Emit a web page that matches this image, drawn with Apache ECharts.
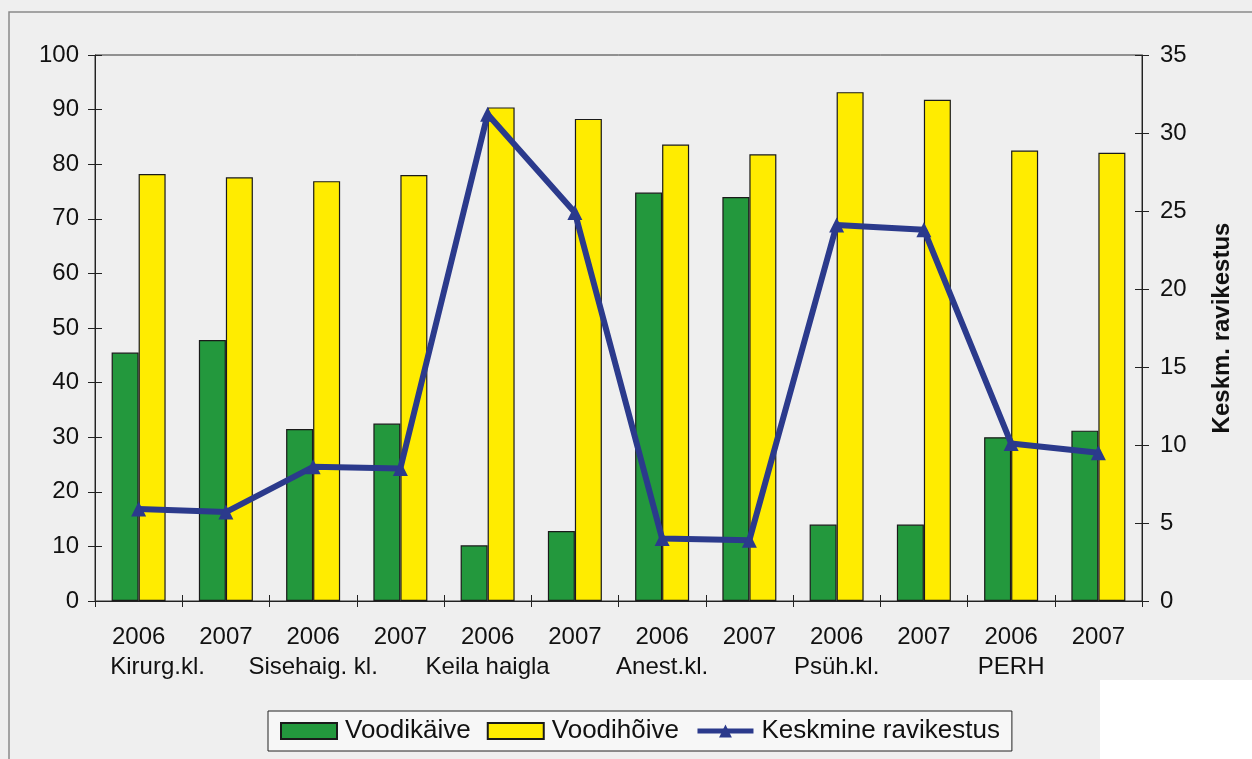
<!DOCTYPE html>
<html>
<head>
<meta charset="utf-8">
<script src="https://cdn.jsdelivr.net/npm/echarts@6/dist/echarts.min.js"></script>
<style>
html,body{margin:0;padding:0;background:#efefef;}
#chart{width:1252px;height:759px;}
</style>
</head>
<body>
<div id="chart"></div>
<script>
// ---- data ----
var years = ['2006','2007','2006','2007','2006','2007','2006','2007','2006','2007','2006','2007'];
var groups = ['Kirurg.kl.','Sisehaig. kl.','Keila haigla','Anest.kl.','Psüh.kl.','PERH'];
var voodikaive = [45.5, 47.8, 31.5, 32.5, 10.2, 12.8, 74.8, 74.0, 14.0, 14.0, 30.0, 31.2];
var voodihoive = [78.2, 77.6, 76.9, 78.0, 90.4, 88.3, 83.6, 81.8, 93.2, 91.8, 82.5, 82.1];
var ravikestus = [5.9, 5.7, 8.6, 8.5, 31.2, 24.9, 4.0, 3.9, 24.1, 23.8, 10.1, 9.5];
var leftTicks = {min: 0, max: 100, interval: 10};
var rightTicks = {min: 0, max: 35, interval: 5};

var FONT = 'Liberation Sans, Arial, sans-serif';
var LINE_COLOR = '#2b3a8c';
var chart = echarts.init(document.getElementById('chart'));

var cats = years.map(function(y, i){ return i; });
function xLabel(v, idx){
  var i = Number(idx);
  var s = '{y|' + years[i] + '}';
  if (i % 2 === 0) {
    var g = groups[i / 2];
    s += '\n' + (i === 0 ? '{gk|' + g + '}' : '{g|' + g + '}');
  }
  return s;
}

var option = {
  backgroundColor: '#efefef',
  animation: false,
  textStyle: {fontFamily: FONT},
  grid: {left: 95, right: 110, top: 55, bottom: 158, show: true, borderColor: '#333', borderWidth: 1, backgroundColor: 'transparent'},
  legend: {
    left: 268, top: 711,
    padding: [7, 12, 7, 12],
    borderColor: '#222', borderWidth: 1,
    backgroundColor: '#f7f7f7',
    itemWidth: 56, itemHeight: 16, itemGap: 16,
    textStyle: {fontFamily: FONT, fontSize: 26, color: '#111', padding: [0,0,0,3]},
    data: [
      {name: 'Voodikäive', icon: 'rect'},
      {name: 'Voodihõive', icon: 'rect'},
      {name: 'Keskmine ravikestus', lineStyle: {width: 5, color: LINE_COLOR}}
    ]
  },
  xAxis: [{
    type: 'category', data: cats, position: 'bottom',
    axisLine: {show: true, lineStyle: {color: '#222', width: 1}},
    axisTick: {show: true, length: 6, lineStyle: {color: '#222'}},
    axisLabel: {
      interval: 0, margin: 21, color: '#111', fontFamily: FONT,
      formatter: xLabel,
      rich: {
        y: {fontSize: 24, fontFamily: FONT, color: '#111', lineHeight: 30},
        g: {fontSize: 24, fontFamily: FONT, color: '#111', lineHeight: 30},
        gk: {fontSize: 24, fontFamily: FONT, color: '#111', lineHeight: 30, padding: [0,0,0,38]}
      }
    },
    splitLine: {show: false}
  }, {
    type: 'category', data: cats, position: 'bottom',
    axisLine: {show: false},
    axisTick: {show: true, inside: true, length: 6, lineStyle: {color: '#222'}},
    axisLabel: {show: false},
    splitLine: {show: false}
  }],
  yAxis: [{
    type: 'value', position: 'left', min: leftTicks.min, max: leftTicks.max, interval: leftTicks.interval,
    axisLine: {show: true, lineStyle: {color: '#222'}},
    axisTick: {show: true, length: 7, lineStyle: {color: '#222'}},
    axisLabel: {fontSize: 24, fontFamily: FONT, color: '#111', margin: 16},
    splitLine: {show: false}
  }, {
    type: 'value', position: 'right', min: rightTicks.min, max: rightTicks.max, interval: rightTicks.interval,
    name: 'Keskm. ravikestus', nameLocation: 'middle', nameGap: 68, nameRotate: 90,
    nameTextStyle: {fontSize: 24, fontWeight: 'bold', fontFamily: FONT, color: '#111'},
    axisLine: {show: true, lineStyle: {color: '#222'}},
    axisTick: {show: true, length: 7, lineStyle: {color: '#222'}},
    axisLabel: {fontSize: 24, fontFamily: FONT, color: '#111', margin: 18},
    splitLine: {show: false}
  }, {
    type: 'value', position: 'left', min: leftTicks.min, max: leftTicks.max, interval: leftTicks.interval,
    axisLine: {show: false},
    axisTick: {show: true, inside: true, length: 7, lineStyle: {color: '#222'}},
    axisLabel: {show: false}, splitLine: {show: false}
  }, {
    type: 'value', position: 'right', min: rightTicks.min, max: rightTicks.max, interval: rightTicks.interval,
    axisLine: {show: false},
    axisTick: {show: true, inside: true, length: 7, lineStyle: {color: '#222'}},
    axisLabel: {show: false}, splitLine: {show: false}
  }],
  series: [{
    name: 'Voodikäive', type: 'bar', xAxisIndex: 0, yAxisIndex: 0,
    data: voodikaive, barWidth: 27, barGap: '0%',
    itemStyle: {color: '#23983d', borderColor: '#1a1a1a', borderWidth: 1.2}
  }, {
    name: 'Voodihõive', type: 'bar', xAxisIndex: 0, yAxisIndex: 0,
    data: voodihoive, barWidth: 27, barGap: '0%',
    itemStyle: {color: '#ffec00', borderColor: '#1a1a1a', borderWidth: 1.2}
  }, {
    name: 'Keskmine ravikestus', type: 'line', xAxisIndex: 0, yAxisIndex: 1,
    data: ravikestus, symbol: 'triangle', symbolSize: 15,
    lineStyle: {color: LINE_COLOR, width: 6},
    itemStyle: {color: LINE_COLOR},
    z: 5
  }],
  graphic: [
    {type: 'rect', z: -10, shape: {x: 9, y: 12, width: 1300, height: 800}, style: {fill: 'none', stroke: '#8a8a8a', lineWidth: 1.5}},
    {type: 'rect', z: -11, shape: {x: 1100, y: 680, width: 160, height: 90}, style: {fill: '#ffffff'}}
  ]
};
chart.setOption(option);
</script>
</body>
</html>
